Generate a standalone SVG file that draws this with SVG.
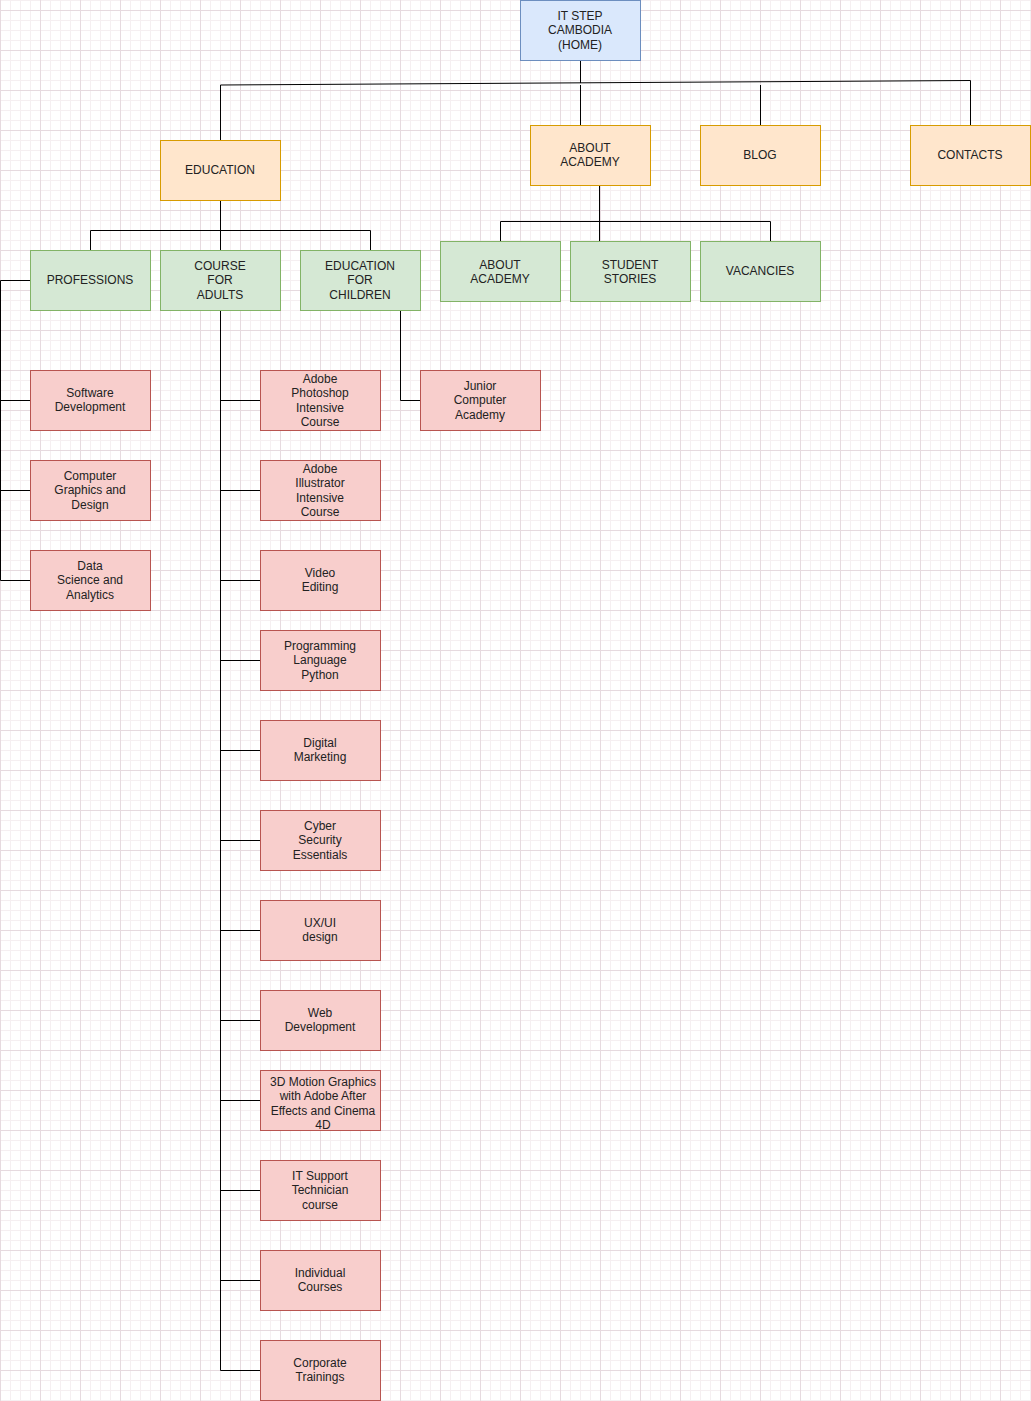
<svg xmlns="http://www.w3.org/2000/svg" width="1031" height="1401" viewBox="0 0 1031 1401">
<style>
text{font-family:"Liberation Sans",Arial,Helvetica,sans-serif;font-size:12px;fill:#222;text-anchor:middle}
.home{fill:#dae8fc;stroke:#6c8ebf;stroke-width:1}
.org{fill:#ffe6cc;stroke:#d79b00;stroke-width:1}
.grn{fill:#d5e8d4;stroke:#82b366;stroke-width:1}
.red{fill:#f8cecc;stroke:#b85450;stroke-width:1}
.edge{fill:none;stroke:#000;stroke-width:1}
</style>
<defs>
<pattern id="grid" patternUnits="userSpaceOnUse" x="0" y="10" width="40" height="40">
<rect width="40" height="40" fill="#fff"/>
<rect x="10" y="0" width="1" height="40" fill="#f5eff1"/>
<rect x="20" y="0" width="1" height="40" fill="#f5eff1"/>
<rect x="30" y="0" width="1" height="40" fill="#f5eff1"/>
<rect x="0" y="10" width="40" height="1" fill="#f5eff1"/>
<rect x="0" y="20" width="40" height="1" fill="#f5eff1"/>
<rect x="0" y="30" width="40" height="1" fill="#f5eff1"/>
<rect x="0" y="0" width="1" height="40" fill="#e6dadf"/>
<rect x="0" y="0" width="40" height="1" fill="#e6dadf"/>
</pattern>
</defs>
<rect width="1031" height="1401" fill="url(#grid)"/>

<g id="connectors">
<polyline class="edge" points="580.5,60 580.5,83"/>
<polyline class="edge" points="220.5,140 220.5,85 970.5,80.5 970.5,125"/>
<polyline class="edge" points="580.5,85 580.5,125" stroke="#444"/>
<polyline class="edge" points="760.5,85 760.5,125" stroke="#444"/>
<polyline class="edge" points="220.5,200 220.5,250"/>
<polyline class="edge" points="90.5,250 90.5,230.5 370.5,230.5 370.5,250"/>
<polyline class="edge" points="599.5,185 599.5,241"/>
<polyline class="edge" points="500.5,241 500.5,221.5 770.5,221.5 770.5,241"/>
<polyline class="edge" points="30,280.5 0.5,280.5 0.5,580.5 30,580.5"/>
<line class="edge" x1="0.5" y1="400.5" x2="30" y2="400.5"/>
<line class="edge" x1="0.5" y1="490.5" x2="30" y2="490.5"/>
<polyline class="edge" points="220.5,310 220.5,1370.5 260,1370.5"/>
<line class="edge" x1="220.5" y1="400.5" x2="260" y2="400.5"/>
<line class="edge" x1="220.5" y1="490.5" x2="260" y2="490.5"/>
<line class="edge" x1="220.5" y1="580.5" x2="260" y2="580.5"/>
<line class="edge" x1="220.5" y1="660.5" x2="260" y2="660.5"/>
<line class="edge" x1="220.5" y1="750.5" x2="260" y2="750.5"/>
<line class="edge" x1="220.5" y1="840.5" x2="260" y2="840.5"/>
<line class="edge" x1="220.5" y1="930.5" x2="260" y2="930.5"/>
<line class="edge" x1="220.5" y1="1020.5" x2="260" y2="1020.5"/>
<line class="edge" x1="220.5" y1="1100.5" x2="260" y2="1100.5"/>
<line class="edge" x1="220.5" y1="1190.5" x2="260" y2="1190.5"/>
<line class="edge" x1="220.5" y1="1280.5" x2="260" y2="1280.5"/>
<polyline class="edge" points="400.5,310 400.5,400.5 420,400.5"/>
</g>

<g id="home"><rect class="home" x="520.5" y="0.5" width="120" height="60"/>
<text x="580" y="19.8">IT STEP</text><text x="580" y="34.3">CAMBODIA</text><text x="580" y="48.8">(HOME)</text></g>

<g id="education"><rect class="org" x="160.5" y="140.5" width="120" height="60"/>
<text x="220" y="173.5">EDUCATION</text></g>
<g id="about"><rect class="org" x="530.5" y="125.5" width="120" height="60"/>
<text x="590" y="151.8">ABOUT</text><text x="590" y="166.3">ACADEMY</text></g>
<g id="blog"><rect class="org" x="700.5" y="125.5" width="120" height="60"/>
<text x="760" y="158.5">BLOG</text></g>
<g id="contacts"><rect class="org" x="910.5" y="125.5" width="120" height="60"/>
<text x="970" y="158.5">CONTACTS</text></g>

<g id="professions"><rect class="grn" x="30.5" y="250.5" width="120" height="60"/>
<text x="90" y="283.5">PROFESSIONS</text></g>
<g id="adults"><rect class="grn" x="160.5" y="250.5" width="120" height="60"/>
<text x="220" y="269.8">COURSE</text><text x="220" y="284.3">FOR</text><text x="220" y="298.8">ADULTS</text></g>
<g id="children"><rect class="grn" x="300.5" y="250.5" width="120" height="60"/>
<text x="360" y="269.8">EDUCATION</text><text x="360" y="284.3">FOR</text><text x="360" y="298.8">CHILDREN</text></g>
<g id="about2"><rect class="grn" x="440.5" y="241.5" width="120" height="60"/>
<text x="500" y="268.8">ABOUT</text><text x="500" y="283.3">ACADEMY</text></g>
<g id="stories"><rect class="grn" x="570.5" y="241.5" width="120" height="60"/>
<text x="630" y="268.8">STUDENT</text><text x="630" y="283.3">STORIES</text></g>
<g id="vacancies"><rect class="grn" x="700.5" y="241.5" width="120" height="60"/>
<text x="760" y="275">VACANCIES</text></g>

<g id="software"><rect class="red" x="30.5" y="370.5" width="120" height="60"/>
<text x="90" y="396.8">Software</text><text x="90" y="411.3">Development</text></g>
<g id="graphics"><rect class="red" x="30.5" y="460.5" width="120" height="60"/>
<text x="90" y="479.8">Computer</text><text x="90" y="494.3">Graphics and</text><text x="90" y="508.8">Design</text></g>
<g id="datasci"><rect class="red" x="30.5" y="550.5" width="120" height="60"/>
<text x="90" y="569.8">Data</text><text x="90" y="584.3">Science and</text><text x="90" y="598.8">Analytics</text></g>

<g id="photoshop"><rect class="red" x="260.5" y="370.5" width="120" height="60"/>
<text x="320" y="382.5">Adobe</text><text x="320" y="397">Photoshop</text><text x="320" y="411.5">Intensive</text><text x="320" y="426">Course</text></g>
<g id="illustrator"><rect class="red" x="260.5" y="460.5" width="120" height="60"/>
<text x="320" y="472.5">Adobe</text><text x="320" y="487">Illustrator</text><text x="320" y="501.5">Intensive</text><text x="320" y="516">Course</text></g>
<g id="video"><rect class="red" x="260.5" y="550.5" width="120" height="60"/>
<text x="320" y="576.8">Video</text><text x="320" y="591.3">Editing</text></g>
<g id="python"><rect class="red" x="260.5" y="630.5" width="120" height="60"/>
<text x="320" y="649.8">Programming</text><text x="320" y="664.3">Language</text><text x="320" y="678.8">Python</text></g>
<g id="marketing"><rect class="red" x="260.5" y="720.5" width="120" height="60"/>
<text x="320" y="746.8">Digital</text><text x="320" y="761.3">Marketing</text></g>
<g id="cyber"><rect class="red" x="260.5" y="810.5" width="120" height="60"/>
<text x="320" y="829.8">Cyber</text><text x="320" y="844.3">Security</text><text x="320" y="858.8">Essentials</text></g>
<g id="uxui"><rect class="red" x="260.5" y="900.5" width="120" height="60"/>
<text x="320" y="926.8">UX/UI</text><text x="320" y="941.3">design</text></g>
<g id="web"><rect class="red" x="260.5" y="990.5" width="120" height="60"/>
<text x="320" y="1016.8">Web</text><text x="320" y="1031.3">Development</text></g>
<g id="motion"><rect class="red" x="260.5" y="1070.5" width="120" height="60"/>
<text x="323" y="1085.5">3D Motion Graphics</text><text x="323" y="1100">with Adobe After</text><text x="323" y="1114.5">Effects and Cinema</text><text x="323" y="1129">4D</text></g>
<g id="itsupport"><rect class="red" x="260.5" y="1160.5" width="120" height="60"/>
<text x="320" y="1179.8">IT Support</text><text x="320" y="1194.3">Technician</text><text x="320" y="1208.8">course</text></g>
<g id="individual"><rect class="red" x="260.5" y="1250.5" width="120" height="60"/>
<text x="320" y="1276.8">Individual</text><text x="320" y="1291.3">Courses</text></g>
<g id="corporate"><rect class="red" x="260.5" y="1340.5" width="120" height="60"/>
<text x="320" y="1366.8">Corporate</text><text x="320" y="1381.3">Trainings</text></g>

<g id="junior"><rect class="red" x="420.5" y="370.5" width="120" height="60"/>
<text x="480" y="389.8">Junior</text><text x="480" y="404.3">Computer</text><text x="480" y="418.8">Academy</text></g>
</svg>
